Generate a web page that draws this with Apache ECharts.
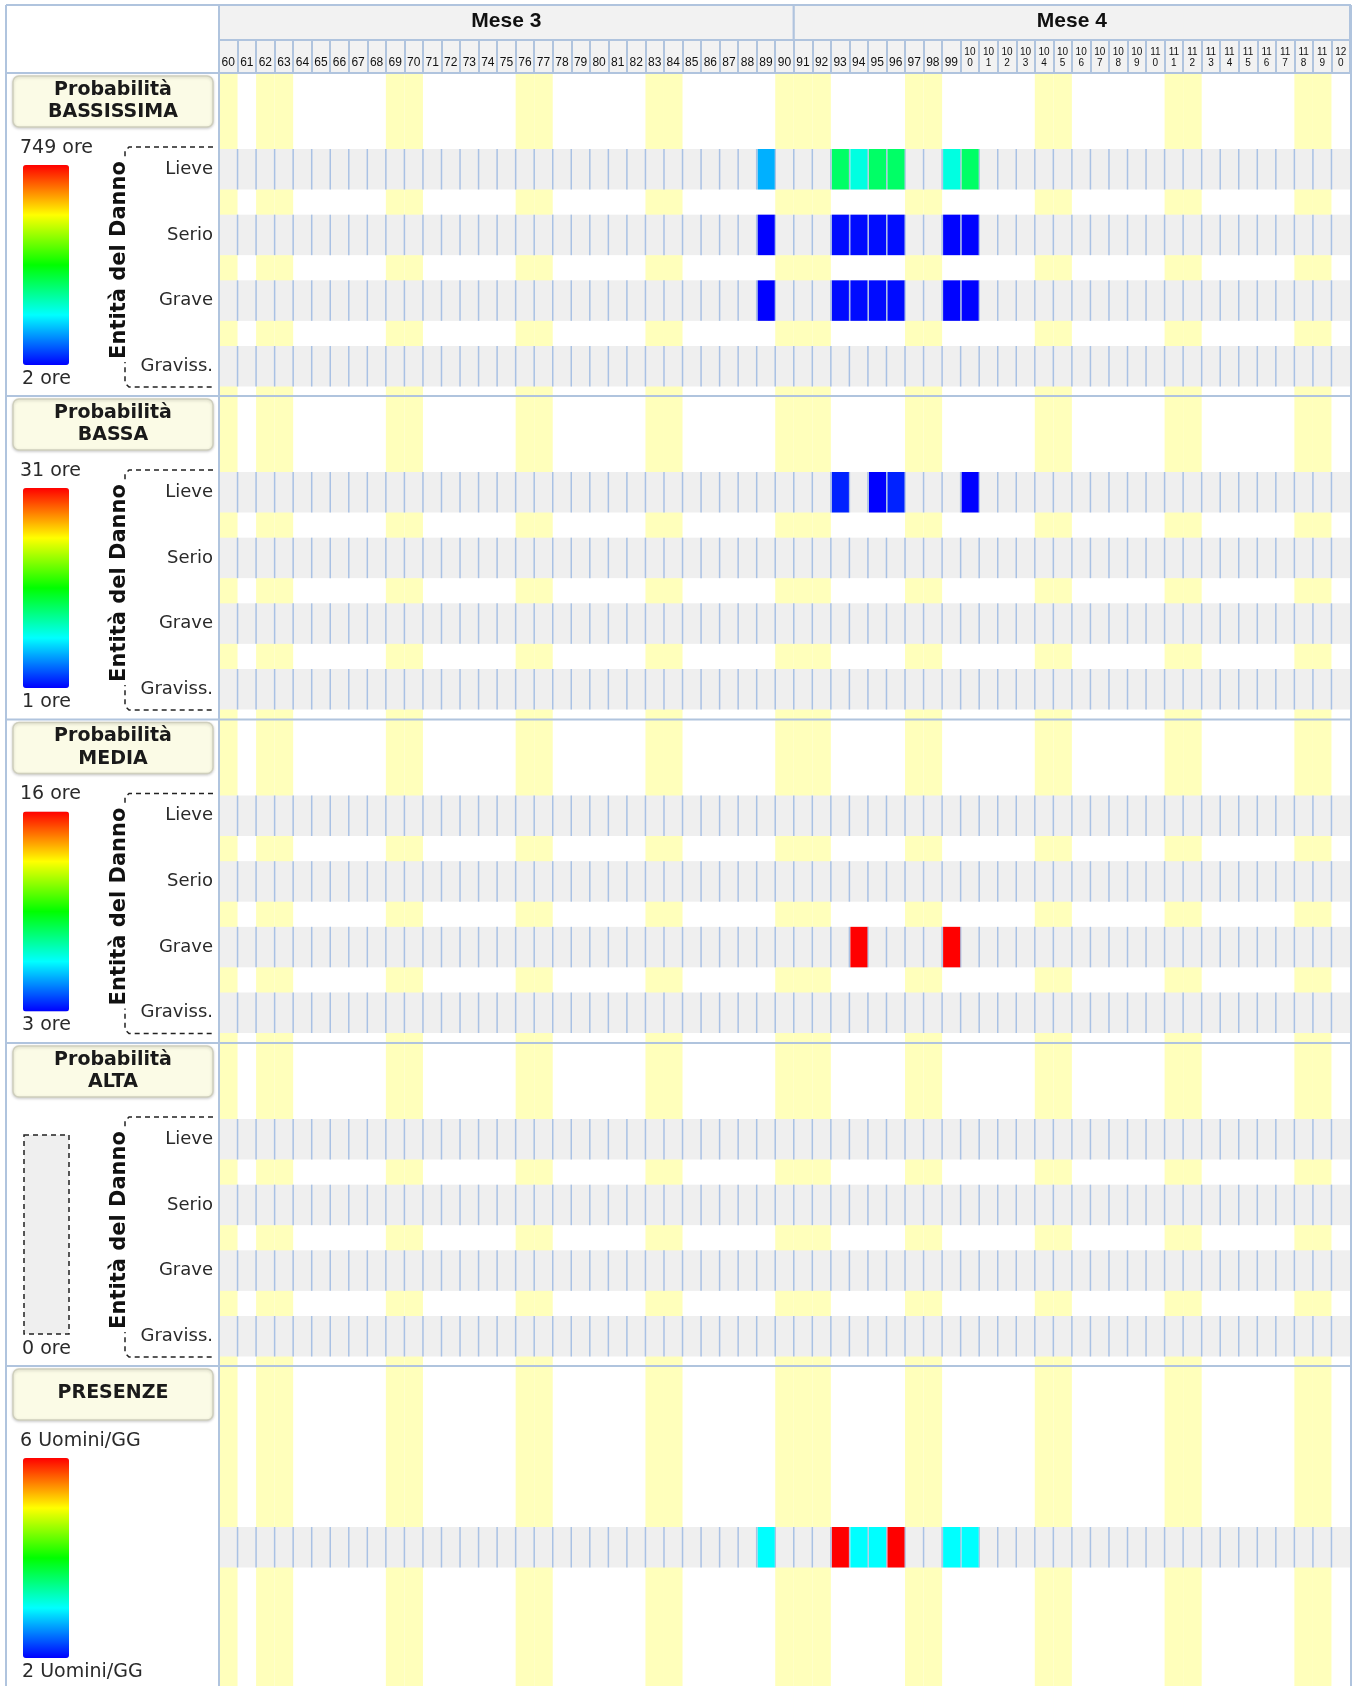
<!DOCTYPE html>
<html><head><meta charset="utf-8">
<script src="https://cdn.jsdelivr.net/npm/echarts@6/dist/echarts.min.js"></script>
<style>html,body{margin:0;padding:0;background:#fff}#c{width:1361px;height:1686px}</style>
</head><body><div id="c"></div>
<script>
// ---------------- DATA ----------------
const dayLabels = ['60','61','62','63','64','65','66','67','68','69','70','71','72','73','74','75','76','77','78','79','80','81','82','83','84','85','86','87','88','89','90',
  '91','92','93','94','95','96','97','98','99','100','101','102','103','104','105','106','107','108','109','110','111','112','113','114','115','116','117','118','119','120'];
const weekendDays = ['60','62','63','69','70','76','77','83','84','90','91','92','97','98','104','105','111','112','118','119'];
const monthNames = ['Mese 3','Mese 4'];
const monthFirstDay = ['60','91'];
const monthLastDay = ['90','120'];
const damageLevels = ['Lieve','Serio','Grave','Graviss.'];
const sectionTitles = [['Probabilità','BASSISSIMA'],['Probabilità','BASSA'],['Probabilità','MEDIA'],['Probabilità','ALTA'],['PRESENZE']];
const scaleMin = [2, 1, 3, 0, 2];
const scaleMax = [749, 31, 16, 0, 6];
const scaleTopLabels = ['749 ore','31 ore','16 ore','','6 Uomini/GG'];
const scaleBottomLabels = ['2 ore','1 ore','3 ore','0 ore','2 Uomini/GG'];

// [day, damage level, hours]
const bassissima = [
  ['89','Lieve',131],['93','Lieve',301],['94','Lieve',211],['95','Lieve',301],['96','Lieve',301],['99','Lieve',211],['100','Lieve',301],
  ['89','Serio',2],['93','Serio',10],['94','Serio',10],['95','Serio',10],['96','Serio',10],['99','Serio',4],['100','Serio',4],
  ['89','Grave',2],['93','Grave',10],['94','Grave',10],['95','Grave',10],['96','Grave',10],['99','Grave',4],['100','Grave',4]
];
const bassa = [['93','Lieve',2],['95','Lieve',1],['96','Lieve',2],['100','Lieve',1]];
const media = [['94','Grave',16],['99','Grave',16]];
const alta = [];
// [day, men-days]
const presenze = [['89',3],['93',6],['94',3],['95',3],['96',6],['99',3],['100',3]];

// ---------------- LAYOUT ----------------
const FONT = '"DejaVu Sans", Verdana, sans-serif';
const GX = 219, GW = 1131, XR = 1351;
const secTop = [73, 396, 719.5, 1043, 1366];
const ROWP = 65.67, ROWH = 40.5;
const rowOffset = [76, 76, 76, 76, 161];
const rainbow = ['#0000ff','#00ffff','#00ff00','#ffff00','#ff0000'];
const LINE = '#b0c4de';

const sectionRows = [damageLevels, damageLevels, damageLevels, damageLevels, ['Uomini/GG']];
const sectionData = [bassissima, bassa, media, alta, presenze.map(p => [p[0], 'Uomini/GG', p[1]])];

const di = d => dayLabels.indexOf(d);

const grids = [
  {left: GX, top: 5, width: GW, height: 35, show: true, backgroundColor: '#f2f2f2', borderColor: LINE, borderWidth: 2},
  {left: GX, top: 40, width: GW, height: 33, show: true, backgroundColor: '#f2f2f2', borderColor: LINE, borderWidth: 2},
  {left: GX, top: 73, width: GW, height: 1686 - 73}
];
sectionRows.forEach((rows, k) => {
  grids.push({left: GX, top: secTop[k] + rowOffset[k] - (ROWP - ROWH) / 2, width: GW, height: ROWP * rows.length});
});

const xAxes = grids.map((g, i) => ({
  type: 'category', gridIndex: i, data: dayLabels, boundaryGap: true, show: i === 1,
  axisLine: {show: false}, axisTick: {show: false},
  splitLine: {show: i === 1, interval: 0, lineStyle: {color: LINE, width: 2}},
  axisLabel: i === 1 ? {
    show: true, interval: 0, inside: true, margin: 4,
    formatter: v => v.length > 2 ? '{s|' + v.slice(0, 2) + '}\n{s|' + v.slice(2) + '}' : '{n|' + v + '}',
    rich: {
      n: {fontSize: 12, fontFamily: '"Liberation Sans", Arial', color: '#111'},
      s: {fontSize: 10, lineHeight: 11, fontFamily: '"Liberation Sans", Arial', color: '#111'}
    }
  } : {show: false}
}));

const yAxes = [
  {type: 'value', gridIndex: 0, min: 0, max: 1, show: false},
  {type: 'value', gridIndex: 1, min: 0, max: 1, show: false},
  {type: 'value', gridIndex: 2, min: 0, max: 1, show: false}
];
sectionRows.forEach((rows, k) => {
  yAxes.push({
    type: 'category', gridIndex: 3 + k, data: rows, inverse: true,
    axisLine: {show: false}, axisTick: {show: false}, splitLine: {show: false},
    axisLabel: {show: k < 4, fontSize: 18, fontFamily: FONT, color: '#2a2a2a', margin: 6}
  });
});

const series = [];
// month header
series.push({
  type: 'custom', xAxisIndex: 0, yAxisIndex: 0, silent: true, z: 3,
  data: monthFirstDay.map((d, i) => [di(d), di(monthLastDay[i])]),
  encode: {x: [0, 1]},
  renderItem: (params, api) => {
    const cs = params.coordSys;
    const bw = api.size([1, 0])[0];
    const x0 = api.coord([api.value(0), 0])[0] - bw / 2;
    const x1 = api.coord([api.value(1), 0])[0] + bw / 2;
    return {type: 'group', children: [
      {type: 'rect', shape: {x: x0, y: cs.y, width: x1 - x0, height: cs.height}, style: {fill: '#f2f2f2', stroke: LINE, lineWidth: 2}},
      {type: 'text', style: {text: monthNames[params.dataIndex], x: (x0 + x1) / 2, y: cs.y + cs.height / 2 - 1, align: 'center', verticalAlign: 'middle', font: 'bold 21px "Liberation Sans", Arial', fill: '#111'}}
    ]};
  }
});
// weekend / holiday bands
series.push({
  type: 'bar', xAxisIndex: 2, yAxisIndex: 2, silent: true, z: 1,
  barCategoryGap: '0%', barWidth: '100%',
  itemStyle: {color: '#ffffbb'},
  data: dayLabels.map(d => weekendDays.includes(d) ? 1 : '-')
});
const visualMaps = [];
sectionRows.forEach((rows, k) => {
  const bg = [];
  rows.forEach((r, ri) => dayLabels.forEach((d, i) => bg.push([i, ri])));
  series.push({
    type: 'custom', xAxisIndex: 3 + k, yAxisIndex: 3 + k, silent: true, z: 3,
    data: bg, encode: {x: 0, y: 1},
    renderItem: (params, api) => {
      const c = api.coord([api.value(0), api.value(1)]);
      const sz = api.size([1, 1]);
      const h = sz[1] * ROWH / ROWP;
      const x = c[0] - sz[0] / 2, y = c[1] - h / 2;
      return {type: 'group', children: [
        {type: 'rect', shape: {x: x, y: y, width: sz[0] + 0.5, height: h}, style: {fill: '#efefef'}},
        {type: 'line', shape: {x1: x, y1: y, x2: x, y2: y + h}, style: {stroke: '#a9c1e4', lineWidth: 1.5}}
      ]};
    }
  });
  series.push({
    type: 'custom', xAxisIndex: 3 + k, yAxisIndex: 3 + k, silent: true, z: 4,
    data: sectionData[k].map(e => [di(e[0]), rows.indexOf(e[1]), e[2]]),
    encode: {x: 0, y: 1},
    renderItem: (params, api) => {
      const c = api.coord([api.value(0), api.value(1)]);
      const sz = api.size([1, 1]);
      const h = sz[1] * ROWH / ROWP;
      return {type: 'rect', shape: {x: c[0] - sz[0] / 2 + 1, y: c[1] - h / 2, width: sz[0] - 1.5, height: h}, style: {fill: api.visual('color')}};
    }
  });
  if (scaleMax[k] > scaleMin[k]) {
    visualMaps.push({
      type: 'continuous', seriesIndex: series.length - 1, dimension: 2,
      min: scaleMin[k], max: scaleMax[k], inRange: {color: rainbow},
      left: 23, top: secTop[k] + 92, itemWidth: 46, itemHeight: 200, padding: 0,
      calculable: false, hoverLink: false, show: true
    });
  }
});

// ---------------- GRAPHIC (frame & left panels) ----------------
const els = [];
const hLine = (y, x1, x2) => els.push({type: 'line', z: 50, silent: true, shape: {x1: x1, y1: y, x2: x2, y2: y}, style: {stroke: LINE, lineWidth: 2}});
const vLine = (x, y1, y2) => els.push({type: 'line', z: 50, silent: true, shape: {x1: x, y1: y1, x2: x, y2: y2}, style: {stroke: LINE, lineWidth: 2}});
hLine(5, 6, XR); hLine(73, 6, XR);
secTop.slice(1).forEach(t => hLine(t, 6, XR));
vLine(6, 5, 1686); vLine(GX, 5, 1686); vLine(XR, 5, 1686);

sectionTitles.forEach((tl, k) => {
  const T = secTop[k];
  els.push({type: 'rect', z: 20, silent: true, shape: {x: 13, y: T + 3, width: 200, height: 51, r: 6},
    style: {fill: '#fbfbe6', stroke: '#cfcfbd', lineWidth: 1.5, shadowBlur: 3, shadowColor: 'rgba(0,0,0,0.18)', shadowOffsetY: 1}});
  const ys = tl.length === 2 ? [T + 17, T + 39.5] : [T + 27];
  tl.forEach((t, j) => els.push({type: 'text', z: 21, silent: true,
    style: {text: t, x: 113, y: ys[j], align: 'center', verticalAlign: 'middle', font: 'bold 19px ' + FONT, fill: '#1a1a1a'}}));
  if (scaleTopLabels[k]) els.push({type: 'text', z: 21, silent: true,
    style: {text: scaleTopLabels[k], x: 20, y: T + 75, align: 'left', verticalAlign: 'middle', font: '19px ' + FONT, fill: '#2a2a2a'}});
  els.push({type: 'text', z: 21, silent: true,
    style: {text: scaleBottomLabels[k], x: 22, y: T + 306, align: 'left', verticalAlign: 'middle', font: '19px ' + FONT, fill: '#2a2a2a'}});
  if (!(scaleMax[k] > scaleMin[k])) {
    els.push({type: 'rect', z: 20, silent: true, shape: {x: 24, y: T + 92, width: 45, height: 199},
      style: {fill: '#efefef', stroke: '#222', lineWidth: 1.5, lineDash: [5, 4]}});
  }
  if (k < 4) {
    els.push({type: 'polyline', z: 20, silent: true,
      shape: {points: [[213, T + 74], [129, T + 74], [125, T + 78], [125, T + 310], [129, T + 314], [213, T + 314]]},
      style: {stroke: '#222', lineWidth: 1.5, lineDash: [5, 4], fill: null}});
    els.push({type: 'text', z: 22, silent: true, x: 120, y: T + 187, rotation: Math.PI / 2,
      style: {text: 'Entità del Danno', x: 0, y: 0, align: 'center', verticalAlign: 'middle', font: 'bold 21px ' + FONT, fill: '#111', backgroundColor: '#fff', padding: [1, 3]}});
  }
});

const chart = echarts.init(document.getElementById('c'), null, {renderer: 'canvas', width: 1361, height: 1686});
chart.setOption({
  animation: false,
  backgroundColor: '#fff',
  grid: grids,
  xAxis: xAxes,
  yAxis: yAxes,
  visualMap: visualMaps,
  series: series,
  graphic: {elements: els}
});
</script>
</body></html>
